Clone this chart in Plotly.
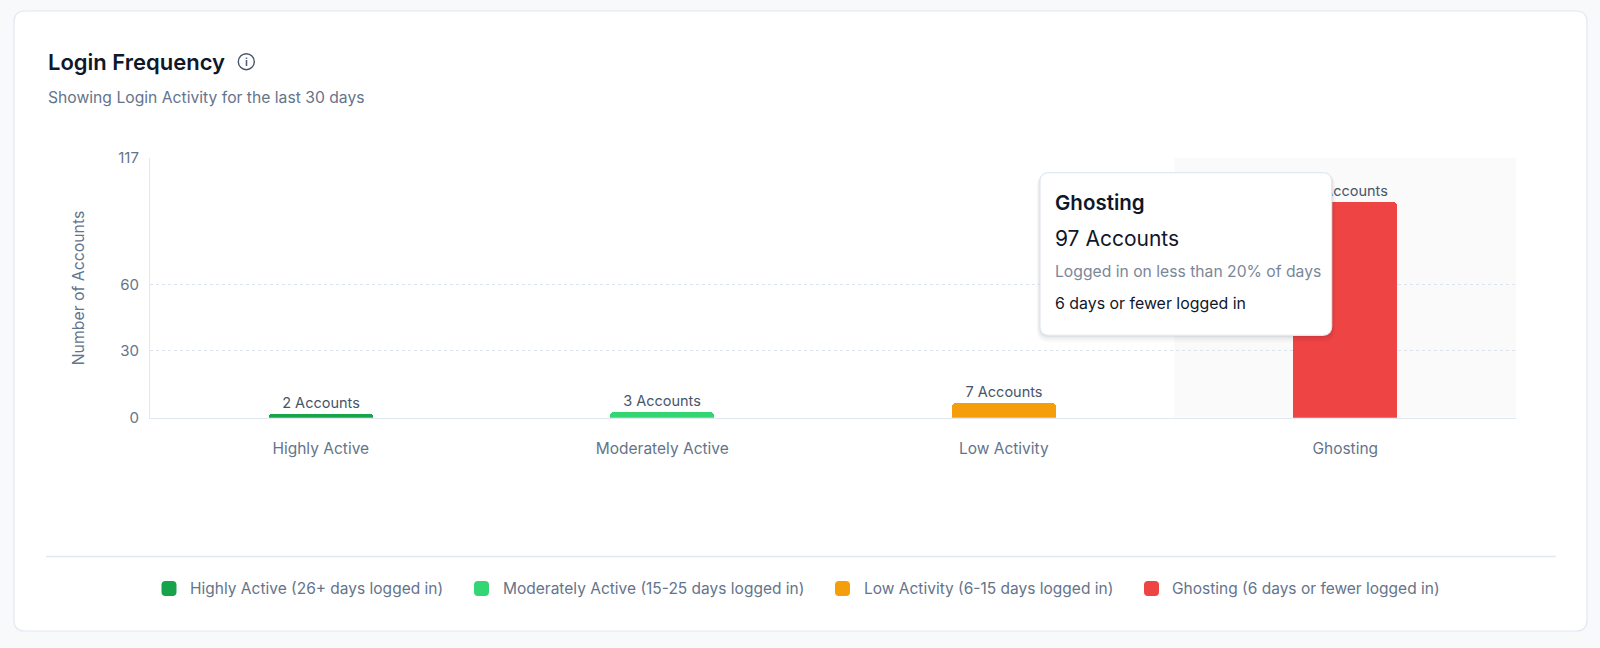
import plotly.graph_objects as go

# ---------------- data ----------------
categories = ["Highly Active", "Moderately Active", "Low Activity", "Ghosting"]
accounts = [2, 3, 7, 97]
legend_labels = [
    "Highly Active (26+ days logged in)",
    "Moderately Active (15-25 days logged in)",
    "Low Activity (6-15 days logged in)",
    "Ghosting (6 days or fewer logged in)",
]
colors = ["#16a34a", "#33d672", "#f59e0b", "#ef4444"]
y_ticks = [0, 30, 60, 117]
y_max = 117

tooltip_title = "Ghosting"
tooltip_value = "97 Accounts"
tooltip_desc = "Logged in on less than 20% of days"
tooltip_note = "6 days or fewer logged in"

W, H = 1600, 648
FONT = "Inter"


def px(x):
    return x / W


def py(y):
    return 1 - y / H


def rounded_rect(x0, y0, x1, y1, r):
    """SVG path in paper coordinates from a pixel box."""
    pts = [
        ("M", x0 + r, y0),
        ("L", x1 - r, y0),
        ("Q", x1, y0, x1, y0 + r),
        ("L", x1, y1 - r),
        ("Q", x1, y1, x1 - r, y1),
        ("L", x0 + r, y1),
        ("Q", x0, y1, x0, y1 - r),
        ("L", x0, y0 + r),
        ("Q", x0, y0, x0 + r, y0),
    ]
    out = []
    for p in pts:
        coords = p[1:]
        s = [f"{px(coords[i]):.6f},{py(coords[i + 1]):.6f}" for i in range(0, len(coords), 2)]
        out.append(p[0] + " ".join(s))
    return " ".join(out) + " Z"


fig = go.Figure()

for i, cat in enumerate(categories):
    fig.add_trace(
        go.Bar(
            x=[cat],
            y=[accounts[i]],
            name=legend_labels[i],
            marker=dict(color=colors[i], cornerradius=5, line=dict(width=0)),
            width=0.305,
            texttemplate="%{y} Accounts",
            textposition="outside",
            textfont=dict(family=FONT, size=14.5, color="#475569"),
            cliponaxis=False,
            hoverinfo="skip",
            showlegend=False,
        )
    )

plot_l, plot_r, plot_t, plot_b = 150, 1516, 157.5, 417.7

shapes = []
# card
shapes.append(dict(type="path", xref="paper", yref="paper",
                   path=rounded_rect(14, 11, 1587, 631, 11),
                   fillcolor="#ffffff", line=dict(color="#e2e8f0", width=1.2),
                   layer="below"))
# hover highlight for the hovered category (Ghosting)
shapes.append(dict(type="rect", xref="x", yref="y", x0=2.5, x1=3.5, y0=0, y1=y_max,
                   fillcolor="#fafafa", line=dict(width=0), layer="below"))
# divider above legend
shapes.append(dict(type="line", xref="paper", yref="paper",
                   x0=px(46), x1=px(1556), y0=py(556.5), y1=py(556.5),
                   line=dict(color="#e2e8f0", width=1.5)))
# info icon circle
shapes.append(dict(type="circle", xref="paper", yref="paper",
                   x0=px(246.3 - 8), x1=px(246.3 + 8), y0=py(61.7 - 8), y1=py(61.7 + 8),
                   line=dict(color="#475569", width=1.4), fillcolor="rgba(0,0,0,0)"))
# tooltip shadow + box
tx0, ty0, tx1, ty1 = 1040, 172.7, 1331.7, 335.3
for k, a in [(7, 0.02), (5, 0.03), (3, 0.04), (1.5, 0.05)]:
    shapes.append(dict(type="path", xref="paper", yref="paper",
                       path=rounded_rect(tx0 - k / 2, ty0 + 1, tx1 + k / 2, ty1 + k, 9 + k / 2),
                       fillcolor=f"rgba(15,23,42,{a})", line=dict(width=0), layer="above"))
shapes.append(dict(type="path", xref="paper", yref="paper",
                   path=rounded_rect(tx0, ty0, tx1, ty1, 9),
                   fillcolor="#ffffff", line=dict(color="#e2e8f0", width=1.2), layer="above"))

annotations = [
    dict(text="Login Frequency", x=px(46), y=py(61.5), xref="paper", yref="paper",
         xanchor="left", yanchor="middle", showarrow=False,
         font=dict(family=FONT, size=22, color="#0f172a", weight=600)),
    dict(text="i", x=px(246.3), y=py(62), xref="paper", yref="paper",
         xanchor="center", yanchor="middle", showarrow=False,
         font=dict(family=FONT, size=11, color="#475569", weight=600)),
    dict(text="Showing Login Activity for the last 30 days", x=px(46), y=py(97.5),
         xref="paper", yref="paper", xanchor="left", yanchor="middle", showarrow=False,
         font=dict(family=FONT, size=15.7, color="#64748b")),
    dict(text="Number of Accounts", x=px(78.3), y=py(288), xref="paper", yref="paper",
         xanchor="center", yanchor="middle", showarrow=False, textangle=-90,
         font=dict(family=FONT, size=15.8, color="#64748b")),
    dict(text=tooltip_title, x=px(1053), y=py(202.3), xref="paper", yref="paper",
         xanchor="left", yanchor="middle", showarrow=False,
         font=dict(family=FONT, size=20.5, color="#0f172a", weight=600)),
    dict(text=tooltip_value, x=px(1053), y=py(238.3), xref="paper", yref="paper",
         xanchor="left", yanchor="middle", showarrow=False,
         font=dict(family=FONT, size=21, color="#0f172a")),
    dict(text=tooltip_desc, x=px(1053), y=py(271.7), xref="paper", yref="paper",
         xanchor="left", yanchor="middle", showarrow=False,
         font=dict(family=FONT, size=15.7, color="#7b8799")),
    dict(text=tooltip_note, x=px(1053), y=py(303.3), xref="paper", yref="paper",
         xanchor="left", yanchor="middle", showarrow=False,
         font=dict(family=FONT, size=15.9, color="#0f172a")),
]

# legend row (swatch + label for each series)
legend_swatch_left = [161.5, 474, 835, 1144]
legend_text_left = [188, 501, 862, 1170]
legend_y = 588.5
for i, lab in enumerate(legend_labels):
    sx = legend_swatch_left[i]
    shapes.append(dict(type="path", xref="paper", yref="paper",
                       path=rounded_rect(sx, legend_y - 7.5, sx + 15, legend_y + 7.5, 4),
                       fillcolor=colors[i], line=dict(width=0)))
    annotations.append(dict(text=lab, x=px(legend_text_left[i]), y=py(legend_y),
                            xref="paper", yref="paper", xanchor="left", yanchor="middle",
                            showarrow=False,
                            font=dict(family=FONT, size=15.5, color="#64748b")))

fig.update_layout(
    width=W,
    height=H,
    margin=dict(l=0, r=0, t=0, b=0, autoexpand=False),
    paper_bgcolor="#f8f9fb",
    plot_bgcolor="rgba(0,0,0,0)",
    barmode="overlay",
    bargap=0,
    font=dict(family=FONT, color="#64748b"),
    showlegend=False,
    xaxis=dict(
        domain=[px(plot_l), px(plot_r)],
        type="category",
        categoryorder="array",
        categoryarray=categories,
        showgrid=False,
        showline=True,
        linecolor="#e2e8f0",
        linewidth=1.2,
        ticks="",
        ticklabelstandoff=17,
        tickfont=dict(family=FONT, size=15.5, color="#64748b"),
        zeroline=False,
        fixedrange=True,
    ),
    yaxis=dict(
        domain=[py(plot_b), py(plot_t)],
        range=[0, y_max],
        tickvals=y_ticks,
        ticktext=[str(v) for v in y_ticks],
        showgrid=True,
        gridcolor="#dde3eb",
        griddash="3px,3px",
        gridwidth=1,
        showline=True,
        linecolor="#e2e8f0",
        linewidth=1.2,
        zeroline=False,
        ticks="",
        ticklabelstandoff=7,
        tickfont=dict(family=FONT, size=15, color="#64748b"),
        fixedrange=True,
    ),
    shapes=shapes,
    annotations=annotations,
    hovermode=False,
)

fig.write_html(
    "out.html",
    config={"displayModeBar": False},
    post_script="document.body.style.margin='0';document.body.style.background='#f8f9fb';",
)
